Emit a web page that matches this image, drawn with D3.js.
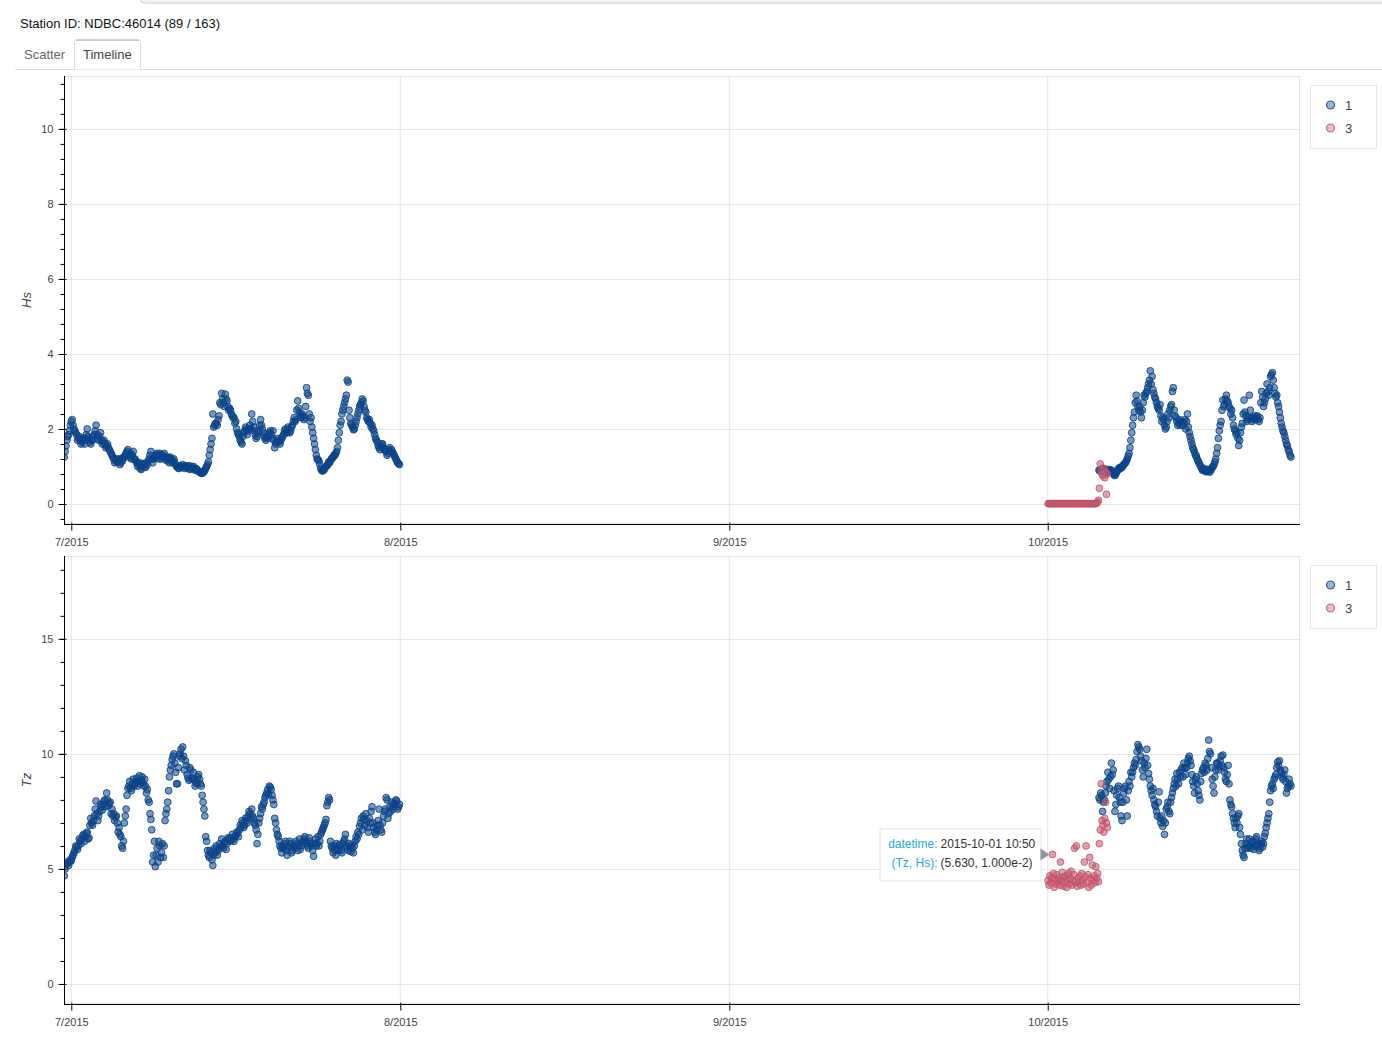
<!DOCTYPE html>
<html><head><meta charset="utf-8">
<script src="https://cdn.jsdelivr.net/npm/d3@7"></script>
<style>
body{margin:0;background:#fff;font-family:"Liberation Sans",Arial,Helvetica,sans-serif;}
svg{display:block}
</style></head><body>
<svg id="c" width="1382" height="1063"></svg>
<script>
// ---------- data ----------
const stationTitle = "Station ID: NDBC:46014 (89 / 163)";
const tabLabels = ["Scatter", "Timeline"];
const groups = ["1", "3"];
const monthTicks = ["2015-07-01", "2015-08-01", "2015-09-01", "2015-10-01"];
const timeDomain = ["2015-06-30T07:30:00Z", "2015-10-24T18:30:00Z"];

// group 1, July: records at 08:00, 12:00, ... (A) and 10:00, 14:00, ... (B), from 2015-06-30
const julStartA = "2015-06-30T08:00:00Z";
const julStartB = "2015-06-30T10:00:00Z";
const stepHours = 4;
const hsJulA = [
1.25,1.55,1.8,1.95,
2.2,2.1,1.95,1.85,1.75,1.7,
1.65,1.75,1.7,2.0,1.75,1.6,
1.7,1.85,2.1,1.75,1.8,1.7,
1.65,1.6,1.55,1.5,1.4,1.3,
1.2,1.15,1.1,1.2,1.1,1.15,
1.25,1.35,1.45,1.3,1.2,1.4,
1.2,1.1,1.05,0.95,1.0,1.05,
0.98,1.05,1.2,1.4,1.1,1.25,
1.3,1.25,1.35,1.2,1.3,1.25,
1.15,1.2,1.25,1.1,1.2,1.05,
1.0,0.95,1.0,1.05,0.95,1.0,
0.98,0.92,1.0,1.0,0.9,0.92,
0.88,0.85,0.82,0.85,0.95,1.05,
1.3,1.6,2.4,2.1,2.15,2.25,
2.7,2.95,2.7,2.93,2.75,2.5,
2.5,2.35,2.3,2.2,1.9,1.8,
1.65,1.8,1.95,2.0,1.95,2.1,
2.4,2.05,1.85,1.8,1.95,2.25,
2.0,1.8,1.7,1.75,1.9,1.85,
1.95,1.5,1.65,1.7,1.6,1.75,
1.85,2.0,1.9,2.0,1.95,2.1,
2.3,2.25,2.75,2.45,2.3,2.35,
2.3,3.1,2.9,2.2,2.05,1.75,
1.45,1.2,1.15,0.95,0.88,0.92,
1.0,1.05,1.1,1.2,1.25,1.3,
1.4,1.7,2.1,2.4,2.6,2.8,
3.3,2.5,2.15,2.05,2.0,2.2,
2.4,2.6,2.7,2.75,2.5,2.3,
2.2,2.15,2.1,1.95,1.75,1.65,
1.5,1.55,1.6,1.45,1.4,1.35,
1.5,1.45,1.35,1.25,1.15,1.08
];
const hsJulB = [
1.4,1.7,1.85,2.1,
2.25,2.0,1.9,1.7,1.8,1.6,
1.75,1.6,1.85,1.8,1.65,1.7,
1.8,1.95,1.85,1.7,1.9,1.6,
1.7,1.5,1.6,1.45,1.35,1.25,
1.1,1.2,1.15,1.05,1.2,1.25,
1.3,1.4,1.25,1.35,1.3,1.2,
1.15,1.0,1.1,0.92,1.08,0.98,
1.1,1.15,1.3,1.2,1.2,1.3,
1.35,1.2,1.3,1.25,1.35,1.2,
1.25,1.1,1.2,1.15,1.1,1.0,
0.95,1.02,0.98,1.0,1.02,0.96,
1.02,0.95,0.96,0.94,0.95,0.88,
0.85,0.82,0.86,0.9,1.0,1.12,
1.45,1.75,2.05,2.15,2.1,2.35,
2.65,2.8,2.6,2.8,2.6,2.55,
2.4,2.3,2.15,2.0,1.85,1.7,
1.6,1.9,2.05,1.85,2.0,2.0,
2.2,1.95,1.75,1.9,2.1,2.1,
1.9,1.75,1.8,1.85,1.95,1.75,
1.7,1.6,1.75,1.65,1.7,1.8,
1.95,1.9,2.05,1.9,2.05,2.2,
2.2,2.5,2.55,2.35,2.4,2.25,
2.6,2.95,2.4,2.3,1.9,1.6,
1.3,1.18,1.05,0.9,0.9,0.98,
1.02,1.12,1.15,1.22,1.3,1.35,
1.5,1.9,2.2,2.5,2.7,2.9,
3.25,2.3,2.1,1.98,2.1,2.3,
2.5,2.65,2.8,2.6,2.45,2.25,
2.25,2.05,2.0,1.85,1.7,1.55,
1.45,1.6,1.5,1.42,1.3,1.45,
1.4,1.38,1.3,1.2,1.1,1.05
];
const tzJulA = [
4.7,5.2,5.25,5.3,
5.35,5.6,5.8,5.95,6.0,6.2,
6.3,6.5,6.4,6.6,6.35,7.2,
6.9,7.3,7.95,7.1,7.5,7.7,
7.8,8.0,8.3,7.75,7.9,7.6,
7.4,7.25,7.0,6.8,6.4,5.9,
7.0,7.6,8.5,8.8,8.4,8.9,
8.7,8.95,8.8,8.7,9.0,8.6,
8.6,8.45,7.9,7.15,5.3,6.2,
5.6,5.3,6.0,5.7,5.5,7.1,
7.6,8.4,9.3,9.75,10.0,9.2,
8.7,9.9,10.2,10.3,9.3,9.5,
8.95,9.4,8.9,9.2,8.6,8.7,
9.1,8.7,8.2,7.6,6.4,5.8,
5.5,5.7,5.15,5.9,6.0,5.8,
6.1,6.3,5.9,6.2,6.1,6.3,
6.35,6.5,6.2,6.45,6.55,6.7,
6.8,7.0,6.9,7.1,7.3,7.4,
7.6,7.2,6.9,6.1,7.0,7.4,
7.6,7.9,8.2,8.45,8.6,8.45,
8.0,7.2,6.7,6.4,6.0,5.7,
5.9,6.2,5.6,6.0,6.1,5.8,
6.0,6.2,5.8,6.3,6.0,6.2,
6.4,6.1,5.9,6.2,6.0,5.55,
6.3,6.1,6.0,6.5,6.7,6.9,
7.15,7.9,8.0,6.0,5.7,5.8,
6.1,5.8,6.0,5.7,6.2,6.5,
5.9,6.1,5.75,5.9,6.0,6.4,
6.6,6.85,7.2,7.3,6.9,7.1,
6.6,7.0,7.7,6.8,6.5,6.9,
7.6,6.7,7.0,7.5,8.1,7.2,
7.7,7.9,7.6,7.8,7.95,7.7
];
const tzJulB = [
5.0,5.3,5.15,5.4,
5.5,5.7,6.0,5.85,6.3,6.1,
6.45,6.2,6.55,6.3,6.9,7.0,
7.1,7.6,7.4,7.3,7.8,7.55,
7.95,7.7,8.0,7.85,7.4,7.3,
7.1,7.3,6.6,6.5,6.0,6.2,
7.3,8.2,8.6,8.5,8.7,8.6,
8.8,8.6,9.05,8.85,8.75,8.9,
8.3,8.0,7.4,6.7,5.6,5.1,
5.9,6.2,5.5,6.1,6.0,7.4,
7.9,9.0,9.5,9.9,9.6,8.7,
9.4,10.0,9.8,9.9,9.7,9.1,
8.85,9.3,8.95,8.9,8.75,9.0,
8.9,8.6,7.9,7.3,6.2,5.6,
5.8,5.4,5.6,5.7,5.6,5.9,
5.95,6.0,6.15,5.85,6.35,6.2,
6.25,6.3,6.4,6.6,6.4,6.9,
7.1,6.8,7.2,7.0,7.5,7.2,
7.3,7.0,6.7,6.5,7.2,7.7,
7.8,8.1,8.3,8.25,8.55,8.2,
7.8,7.0,6.5,6.2,5.9,6.0,
6.1,5.8,5.9,6.2,5.7,6.0,
5.9,6.1,6.0,5.85,6.15,6.3,
6.2,6.0,6.35,6.1,5.8,6.1,
6.0,6.4,6.2,6.6,6.8,7.0,
7.75,8.1,6.2,5.9,6.0,5.6,
5.9,6.05,5.8,6.1,6.3,6.0,
5.8,5.95,6.05,5.7,6.2,6.3,
6.5,7.0,6.7,7.15,7.4,6.8,
7.2,7.5,7.0,6.6,6.7,7.1,
6.9,6.6,7.3,7.6,8.0,7.4,
7.5,7.7,7.85,8.0,7.6,7.8
];

// group 1, October: A from 2015-10-05 20:00, B from 22:00, every 4 h
const octStartA = "2015-10-05T20:00:00Z";
const octStartB = "2015-10-05T22:00:00Z";
const hsOctA = [
0.9,
0.92,0.95,0.88,0.9,0.85,0.92,
0.9,0.82,0.76,0.85,0.95,0.98,
0.98,1.05,1.1,1.2,1.35,1.7,
2.1,2.45,2.9,2.6,2.6,2.3,
2.7,2.85,3.0,3.2,3.55,3.4,
2.95,2.8,2.6,2.5,2.35,2.3,
2.1,2.05,2.4,2.5,2.65,3.1,
2.35,2.2,2.15,2.1,2.2,2.15,
2.0,2.4,1.9,1.7,1.5,1.38,
1.28,1.15,1.05,0.95,0.92,0.88,
0.88,0.9,0.88,0.98,1.05,1.2,
1.5,1.95,2.2,2.77,2.65,2.9,
2.7,2.55,2.5,2.1,1.95,1.9,
1.56,1.9,2.15,2.77,2.35,2.25,
2.9,2.3,2.25,2.35,2.3,2.25,
2.3,3.0,2.6,2.8,3.2,2.9,
3.4,3.5,3.1,2.85,2.7,2.45,
2.15,1.95,1.8,1.6,1.45,1.3
];
const hsOctB = [
0.88,
0.9,0.86,0.93,0.87,0.9,0.88,
0.85,0.78,0.8,0.9,0.93,0.96,
1.02,1.08,1.15,1.28,1.5,1.9,
2.3,2.7,2.75,2.5,2.45,2.5,
2.9,2.95,3.1,3.3,3.2,3.05,
2.85,2.7,2.55,2.65,2.2,2.25,
2.0,2.2,2.3,2.6,3.0,2.5,
2.3,2.1,2.25,2.2,2.1,2.25,
2.2,2.05,1.8,1.6,1.45,1.3,
1.2,1.1,1.0,0.9,0.95,0.86,
0.92,0.85,0.93,1.0,1.12,1.35,
1.75,2.1,2.5,2.6,2.8,2.75,
2.6,2.4,2.3,2.0,1.85,1.75,
1.7,2.05,2.4,2.45,2.2,2.3,
2.5,2.2,2.3,2.25,2.35,2.2,
2.7,2.85,2.7,2.95,3.0,3.1,
3.45,3.3,2.95,2.9,2.6,2.3,
2.05,1.9,1.7,1.55,1.4,1.25
];
const tzOctA = [
8.1,
8.3,7.5,8.0,8.6,9.2,8.5,
9.6,9.3,7.5,8.2,8.6,7.9,
7.1,8.3,8.6,7.3,8.8,9.2,
9.2,9.6,9.75,10.4,10.2,9.7,
9.0,9.4,10.2,9.15,8.6,8.2,
8.0,7.7,7.3,8.35,7.0,6.85,
6.5,7.6,7.9,7.4,8.1,8.5,
8.9,9.15,8.7,9.0,9.4,9.6,
9.1,9.6,9.9,9.5,8.8,8.3,
9.0,8.4,8.0,9.15,9.4,9.6,
9.3,10.6,10.0,8.9,8.3,9.3,
9.6,9.45,9.9,9.95,9.2,8.8,
9.5,8.0,7.7,7.2,6.8,7.0,
7.4,6.5,5.8,5.5,6.1,5.9,
6.3,5.9,6.2,6.0,6.4,6.1,
5.9,6.2,6.1,6.55,7.0,7.4,
8.4,8.7,8.9,9.1,9.65,9.7,
9.2,8.9,9.3,8.3,8.6,8.7
];
const tzOctB = [
8.0,
8.2,7.9,8.3,8.8,8.9,9.0,
9.1,8.4,7.8,8.5,8.1,7.3,
7.9,8.5,8.0,8.4,8.6,9.0,
9.4,9.5,10.1,10.3,9.9,9.3,
9.6,9.8,9.5,8.9,8.4,8.5,
7.8,7.5,7.9,7.2,7.3,7.1,
7.0,7.7,7.5,7.9,8.3,8.7,
8.6,8.9,9.2,9.3,9.0,9.4,
9.4,9.8,9.7,9.1,8.6,8.9,
8.7,8.2,8.8,9.3,9.2,9.5,
9.8,10.1,9.4,8.6,9.0,9.6,
9.3,9.7,9.5,9.4,8.9,9.1,
8.7,7.8,7.4,7.0,7.2,7.3,
6.8,6.1,5.6,5.9,6.3,6.0,
6.0,6.15,5.85,6.3,6.0,5.8,
6.1,5.95,6.4,6.8,7.2,7.9,
8.6,8.5,9.0,9.4,9.5,9.3,
9.0,9.1,8.8,8.5,8.9,8.6
];

// group 3, October, from 2015-10-01 00:50, every 2 h
const q3Start = "2015-10-01T00:50:00Z";
const q3StepHours = 2;
const hsQ3 = [
0.01,0.01,0.01,0.01,0.01,0.01,0.01,0.01,0.01,0.01,0.01,0.01,
0.01,0.01,0.01,0.01,0.01,0.01,0.01,0.01,0.01,0.01,0.01,0.01,
0.01,0.01,0.01,0.01,0.01,0.01,0.01,0.01,0.01,0.01,0.01,0.01,
0.01,0.01,0.01,0.01,0.01,0.01,0.01,0.01,0.01,0.01,0.01,0.01,
0.01,0.01,0.01,0.01,0.01,0.01,0.01,0.02,0.05,0.1,
0.42,1.07,0.9,0.8,0.75,0.95,0.7,0.85,0.26,0.8
];
const tzQ3 = [
4.5,4.3,4.7,4.4,4.6,5.63,4.8,4.2,4.55,4.35,4.75,4.45,
4.6,4.3,5.3,4.5,4.85,4.25,4.65,4.4,4.7,4.2,4.55,4.8,
4.35,4.6,4.9,4.3,4.5,4.75,5.9,4.4,6.0,4.25,4.6,4.45,
4.7,4.3,4.8,4.5,4.35,5.3,4.65,6.0,4.4,4.75,4.2,5.5,
4.6,4.3,5.17,4.5,4.7,4.4,5.1,4.6,4.8,4.45,6.1,6.7,
8.7,7.1,6.9,6.6,7.2,7.9,7.0,6.8,3.9,9.56
];

// tooltip shown in the picture
const tipTime = "2015-10-01T10:50:00Z";
const tipTz = 5.63, tipHs = 0.01;
const tipLabels = ["datetime:", "(Tz, Hs):"];
const tipValues = ["2015-10-01 10:50", "(5.630, 1.000e-2)"];

// ---------- build ----------
const H = 3600e3;
function build(start, step, hs, tz) {
  const t0 = new Date(start).getTime();
  return hs.map((v, i) => ({ t: new Date(t0 + i * step * H), hs: v, tz: tz[i] }));
}
const g1 = [].concat(
  build(julStartA, stepHours, hsJulA, tzJulA),
  build(julStartB, stepHours, hsJulB, tzJulB),
  build(octStartA, stepHours, hsOctA, tzOctA),
  build(octStartB, stepHours, hsOctB, tzOctB)
).sort((a, b) => a.t - b.t);
const g3 = build(q3Start, q3StepHours, hsQ3, tzQ3);

const colors = { "1": "#0a4488", "3": "#c2566c" };
const svg = d3.select("#c");
const FONT = '"Liberation Sans",Arial,Helvetica,sans-serif';

// header
svg.append("rect").attr("x", 140.5).attr("y", -12).attr("width", 1260).attr("height", 15)
  .attr("rx", 4).attr("fill", "#f3f3f3").attr("stroke", "#cccccc");
svg.append("text").attr("x", 20).attr("y", 28).attr("font-size", 13).attr("font-family", FONT)
  .attr("fill", "#111").text(stationTitle);
svg.append("line").attr("x1", 15).attr("x2", 1382).attr("y1", 69.5).attr("y2", 69.5).attr("stroke", "#dddddd");
svg.append("path").attr("d", "M74.5,69.5 V42.5 Q74.5,39.5 77.5,39.5 H137.5 Q140.5,39.5 140.5,42.5 V69.5")
  .attr("fill", "#fff").attr("stroke", "#dddddd");
svg.append("path").attr("d", "M76,40.2 H139").attr("stroke", "#c8c8c8").attr("stroke-width", 1.5);
svg.append("text").attr("x", 24).attr("y", 59).attr("font-size", 13).attr("font-family", FONT).attr("fill", "#666").text(tabLabels[0]);
svg.append("text").attr("x", 83).attr("y", 59).attr("font-size", 13).attr("font-family", FONT).attr("fill", "#444").text(tabLabels[1]);

const L = 64, R = 1300;
const x = d3.scaleUtc().domain(timeDomain.map(d => new Date(d))).range([L, R]);

const panels = [
  { key: "hs", label: "Hs", top: 76, bottom: 524, domain: [-0.533, 11.41], major: [0, 2, 4, 6, 8, 10], minorStep: 0.4, minorFrom: -0.4 },
  { key: "tz", label: "Tz", top: 556, bottom: 1004, domain: [-0.87, 18.6], major: [0, 5, 10, 15], minorStep: 1, minorFrom: 0 }
];

panels.forEach((p, pi) => {
  const y = d3.scaleLinear().domain(p.domain).range([p.bottom, p.top]);
  const g = svg.append("g");
  // grid
  g.selectAll(".gx").data(monthTicks).join("line")
    .attr("x1", d => x(new Date(d))).attr("x2", d => x(new Date(d)))
    .attr("y1", p.top).attr("y2", p.bottom).attr("stroke", "#e5e5e5");
  g.selectAll(".gy").data(p.major).join("line")
    .attr("x1", L).attr("x2", R).attr("y1", d => Math.round(y(d)) + 0.5).attr("y2", d => Math.round(y(d)) + 0.5)
    .attr("stroke", "#e5e5e5");
  // outline
  g.append("rect").attr("x", L + 0.5).attr("y", p.top + 0.5).attr("width", R - L - 1).attr("height", p.bottom - p.top - 1)
    .attr("fill", "none").attr("stroke", "#e5e5e5");

  // points
  const cid = "clip" + pi;
  svg.append("clipPath").attr("id", cid).append("rect").attr("x", L).attr("y", p.top).attr("width", R - L).attr("height", p.bottom - p.top);
  const pg = g.append("g").attr("clip-path", `url(#${cid})`);
  [["1", g1], ["3", g3]].forEach(([k, data]) => {
    pg.append("g").selectAll("circle").data(data).join("circle")
      .attr("cx", d => x(d.t)).attr("cy", d => y(d[p.key])).attr("r", 3.4)
      .attr("fill", colors[k]).attr("fill-opacity", 0.55)
      .attr("stroke", colors[k]).attr("stroke-opacity", 0.85).attr("stroke-width", 1);
  });

  // y axis
  const minor = d3.range(Math.round((p.domain[1] - p.minorFrom) / p.minorStep) + 1)
    .map(i => +(p.minorFrom + i * p.minorStep).toFixed(3))
    .filter(v => v >= p.domain[0] && v <= p.domain[1]);
  const ya = g.append("g").attr("transform", `translate(${L + 0.5},0)`)
    .call(d3.axisLeft(y).tickValues(minor).tickSize(4).tickFormat(""));
  ya.select(".domain").remove();
  ya.selectAll("line").attr("stroke", "#000");
  const yb = g.append("g").attr("transform", `translate(${L + 0.5},0)`)
    .call(d3.axisLeft(y).tickValues(p.major).tickSize(6).tickPadding(5).tickFormat(d3.format("d")));
  yb.select(".domain").attr("d", `M0,${p.top}V${p.bottom}`).attr("stroke", "#000");
  yb.selectAll(".tick line").attr("x1", 2).attr("stroke", "#000");
  yb.selectAll("text").attr("font-size", 11).attr("font-family", FONT).attr("fill", "#444");

  // x axis
  const xa = g.append("g").attr("transform", `translate(0,${p.bottom + 0.5})`)
    .call(d3.axisBottom(x).tickValues(monthTicks.map(d => new Date(d))).tickSize(6).tickPadding(8)
      .tickFormat(d3.utcFormat("%-m/%Y")));
  xa.select(".domain").attr("d", `M${L},0H${R}`).attr("stroke", "#000");
  xa.selectAll(".tick line").attr("y1", -2).attr("stroke", "#000");
  xa.selectAll("text").attr("font-size", 11).attr("font-family", FONT).attr("fill", "#444");

  // axis title
  const cy = (p.top + p.bottom) / 2;
  g.append("text").attr("transform", `translate(31,${cy}) rotate(-90)`).attr("text-anchor", "middle")
    .attr("font-size", 13).attr("font-style", "italic").attr("font-family", FONT).attr("fill", "#444").text(p.label);

  // legend
  const lg = g.append("g").attr("transform", `translate(1310,${p.top + 9})`);
  lg.append("rect").attr("x", 0.5).attr("y", 0.5).attr("width", 66).attr("height", 63).attr("fill", "#fff").attr("stroke", "#e5e5e5");
  groups.forEach((k, i) => {
    const yy = 20 + i * 23;
    lg.append("circle").attr("cx", 20.5).attr("cy", yy).attr("r", 4)
      .attr("fill", colors[k]).attr("fill-opacity", 0.4).attr("stroke", colors[k]).attr("stroke-opacity", 0.85).attr("stroke-width", 1.2);
    lg.append("text").attr("x", 35).attr("y", yy + 4.5).attr("font-size", 13).attr("font-family", FONT).attr("fill", "#444").text(k);
  });

  // tooltip on Tz panel
  if (p.key === "tz") {
    const px = x(new Date(tipTime)), py = y(tipTz);
    const tg = svg.append("g");
    const right = px - 12, w = 161, h = 52;
    tg.append("rect").attr("x", right - w + 0.5).attr("y", py - h / 2 + 0.5).attr("width", w).attr("height", h)
      .attr("fill", "#fff").attr("stroke", "#e5e5e5");
    tg.append("path").attr("d", `M${right},${py - 6}L${px - 3},${py}L${right},${py + 6}Z`).attr("fill", "#909599");
    tipLabels.forEach((lab, i) => {
      const by = py - 6 + i * 19;
      tg.append("text").attr("x", right - w + 58).attr("y", by).attr("text-anchor", "end")
        .attr("font-size", 12).attr("font-family", FONT).attr("fill", "#26aae1").text(lab);
      tg.append("text").attr("x", right - w + 61).attr("y", by)
        .attr("font-size", 12).attr("font-family", FONT).attr("fill", "#333").text(tipValues[i]);
    });
  }
});
</script></body></html>
